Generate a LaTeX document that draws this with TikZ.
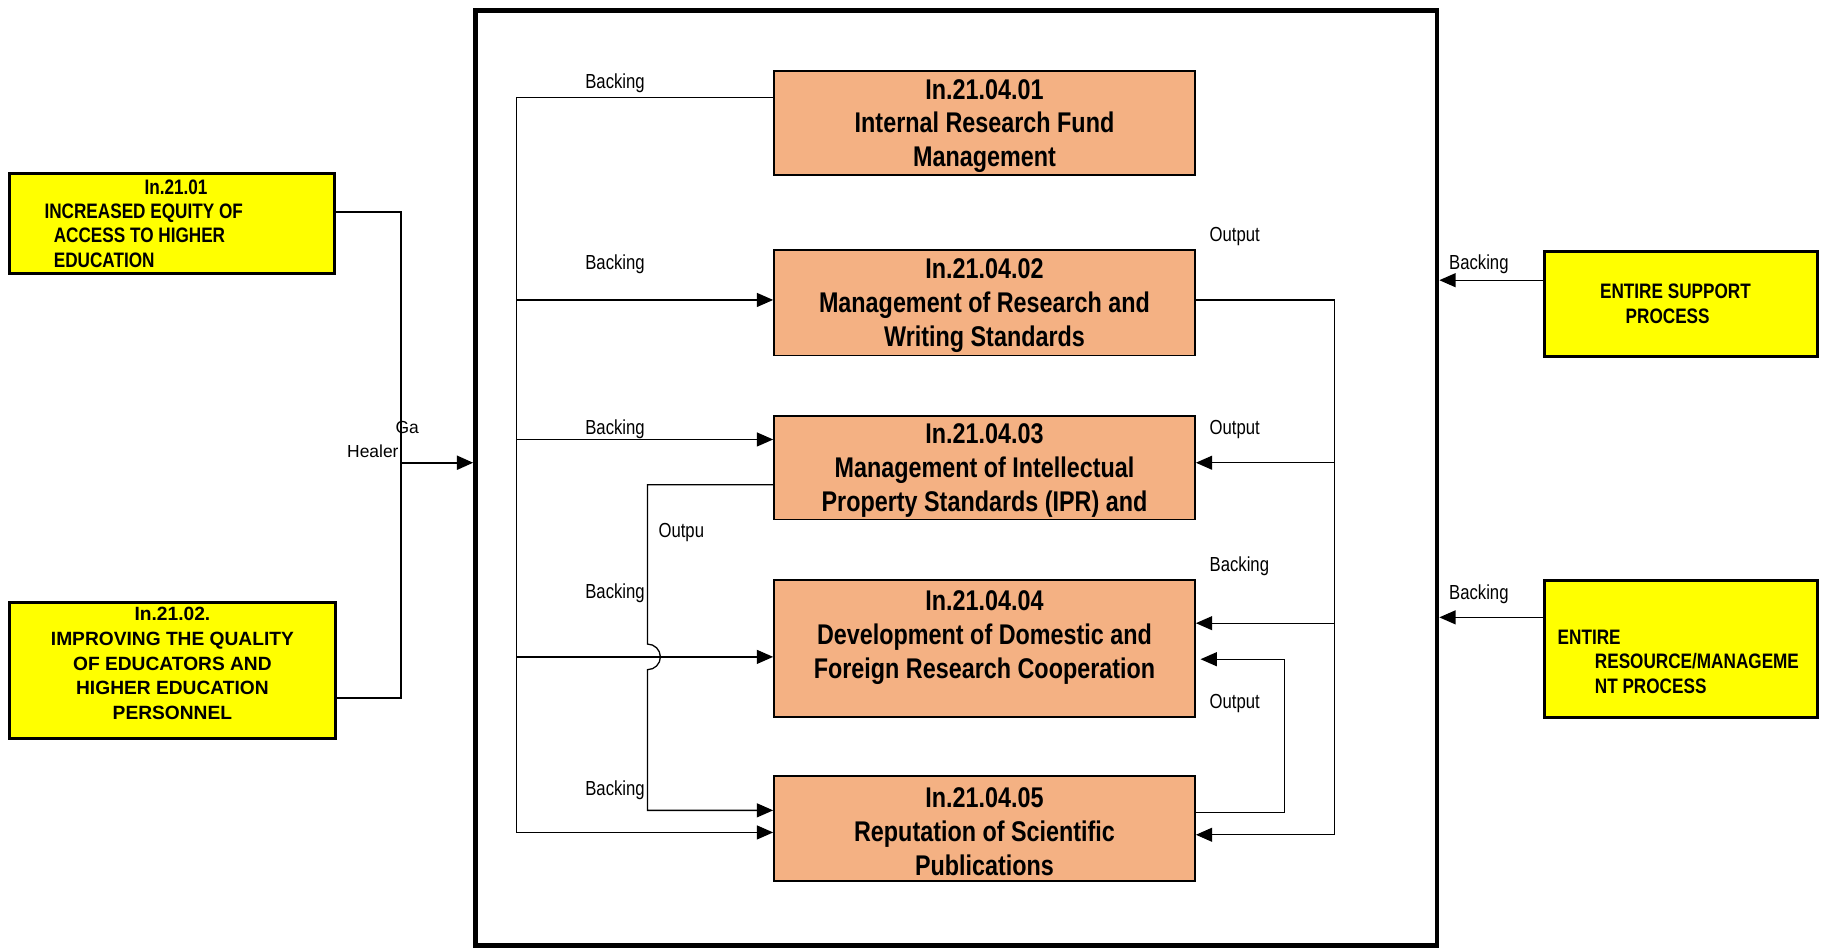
\documentclass[tikz,border=0pt]{standalone}
\usepackage{fontspec}
\setmainfont{Liberation Sans}
\newfontfamily\narrowfont[FakeStretch=0.82]{Liberation Sans}
\usetikzlibrary{arrows.meta,calc}
\definecolor{boxorange}{RGB}{244,177,131}
\definecolor{boxyellow}{RGB}{255,255,0}
% tall strut for the first line of a process box
\newcommand\firstlinestrut{\rule{0pt}{22pt}}

\begin{document}
\begin{tikzpicture}[x=1pt,y=1pt,
  framebox/.style={draw=black, line width=4pt, inner sep=0pt, anchor=north west},
  procbox/.style={draw=black, line width=1.6pt, fill=boxorange, inner sep=0pt,
    align=center, minimum width=362pt, anchor=north west,
    font=\narrowfont\bfseries\fontsize{24.5}{29}\selectfont},
  goalbox/.style={draw=black, line width=2.6pt, fill=boxyellow, inner ysep=0pt,
    anchor=north west, font=\narrowfont\bfseries\fontsize{18}{21}\selectfont,
    execute at begin node={\spaceskip=0pt\xspaceskip=0pt\relax}},
  widegoal/.style={goalbox, font=\bfseries\fontsize{16.5}{21.2}\selectfont},
  lbl/.style={inner sep=0pt, font=\narrowfont\fontsize{17.5}{20}\selectfont},
  plainlbl/.style={inner sep=0pt, font=\fontsize{15}{18}\selectfont},
  conn/.style={line width=1.1pt},
  heavy/.style={line width=1.8pt},
  arr/.style={-{Triangle[length=14pt,width=12pt]}},
  ]
% canvas
\fill[white] (0,0) rectangle (1568,-816);
\useasboundingbox (0,0) rectangle (1568,-816);

% outer process frame
\node[framebox, minimum width=827pt, minimum height=804pt] (frame) at (407,-7) {};

% sub-processes
\node[procbox, minimum height=90pt] (o1) at (665,-60) {\firstlinestrut In.21.04.01\\Internal Research Fund\\Management};
\node[procbox, minimum height=91pt] (o2) at (665,-214) {\firstlinestrut In.21.04.02\\Management of Research and\\Writing Standards};
\node[procbox, minimum height=89pt] (o3) at (665,-357) {\firstlinestrut In.21.04.03\\Management of Intellectual\\Property Standards (IPR) and};
\node[procbox, minimum height=118pt] (o4) at (665,-498) {\firstlinestrut In.21.04.04\\Development of Domestic and\\Foreign Research Cooperation\\\mbox{}};
\node[procbox, minimum height=90pt] (o5) at (665,-667) {\firstlinestrut In.21.04.05\\Reputation of Scientific\\Publications};

% goals on the left
\node[goalbox, minimum height=86pt, text width=219pt, inner xsep=30pt, align=left] (ya) at (7,-148)
  {\hspace*{86pt}In.21.01\\INCREASED EQUITY OF\\\hspace*{8pt}ACCESS TO HIGHER\\\hspace*{8pt}EDUCATION};
\node[widegoal, minimum width=280pt, minimum height=117pt, align=center] (yb) at (7,-517)
  {In.21.02.\\IMPROVING THE QUALITY\\OF EDUCATORS AND\\HIGHER EDUCATION\\PERSONNEL\\[-9pt]\mbox{}};

% support processes on the right
\node[goalbox, minimum height=90pt, text width=139pt, inner xsep=48pt, align=left] (y3) at (1327,-215)
  {ENTIRE SUPPORT\\\hspace*{22pt}PROCESS};
\node[goalbox, minimum height=118pt, text width=212pt, inner xsep=11.5pt, align=left] (y4) at (1327,-498)
  {\mbox{}\\[13pt]ENTIRE\\\hspace*{32pt}RESOURCE/MANAGEME\\\hspace*{32pt}NT PROCESS};

% junction points
\coordinate (J1) at (345,-182);
\coordinate (J2) at (345,-600);
\coordinate (G)  at (345,-398);
\coordinate (L1) at (444,-84);
\coordinate (L2) at (444,-258);
\coordinate (L3) at (444,-378);
\coordinate (L4) at (444,-565);
\coordinate (L5) at (444,-716);
\coordinate (P1) at (557,-417);
\coordinate (P2) at (557,-697);
\coordinate (R1) at (1148,-258);
\coordinate (R3) at (1148,-398);
\coordinate (R4) at (1148,-536);
\coordinate (R5) at (1148,-718);
\coordinate (Q1) at (1105,-699);
\coordinate (Q2) at (1105,-567);
\coordinate (K1) at (1280,-241);
\coordinate (K2) at (1280,-531);

% goals feeding the frame
\draw[heavy] (ya.east |- J1) -- (J1) -- (J2) -- (yb.east |- J2);
\draw[heavy, arr] (G) -- (frame.west |- G);

% left backing bus
\draw[conn] (o1.west |- L1) -- (L1) -- (L5);
\draw[conn, arr] (L2) -- (o2.west |- L2);
\draw[conn, arr] (L3) -- (o3.west |- L3);
\draw[conn, arr] (L4) -- (o4.west |- L4);
\draw[conn, arr] (L5) -- (o5.west |- L5);

% output of 03 into 05, hopping over the bus branch
\draw[conn, arr] (o3.west |- P1) -- (P1) -- ++(0,-137)
  arc[start angle=90, end angle=-90, radius=11] -- (P2) -- (o5.west |- P2);

% right output bus
\draw[conn] (o2.east |- R1) -- (R1) -- (R5);
\draw[conn, arr] (R3) -- (o3.east |- R3);
\draw[conn, arr] (R4) -- (o4.east |- R4);
\draw[conn, arr] (R5) -- (o5.east |- R5);

% output of 05 back into 04
\draw[conn, arr, shorten >=4pt] (o5.east |- Q1) -- (Q1) -- (Q2) -- (o4.east |- Q2);

% support processes into the frame
\draw[conn, arr] (y3.west |- K1) -- (frame.east |- K1);
\draw[conn, arr] (y4.west |- K2) -- (frame.east |- K2);

% labels
\node[plainlbl, anchor=west] (ga) at (340,-368) {Ga};
\node[plainlbl, anchor=east] (healer) at (343,-388) {Healer};
\node[lbl] (bk1) at (529,-72) {Backing};
\node[lbl] (bk2) at (529,-227) {Backing};
\node[lbl] (bk3) at (529,-369) {Backing};
\node[lbl] (bk4) at (529,-510) {Backing};
\node[lbl] (bk5) at (529,-680) {Backing};
\node[lbl] (outpu) at (586,-458) {Outpu};
\node[lbl] (out1) at (1062,-203) {Output};
\node[lbl] (out2) at (1062,-369) {Output};
\node[lbl] (out3) at (1062,-605) {Output};
\node[lbl] (bk6) at (1066,-487) {Backing};
\node[lbl] (bk7) at (1272,-227) {Backing};
\node[lbl] (bk8) at (1272,-511) {Backing};
\end{tikzpicture}
\end{document}
